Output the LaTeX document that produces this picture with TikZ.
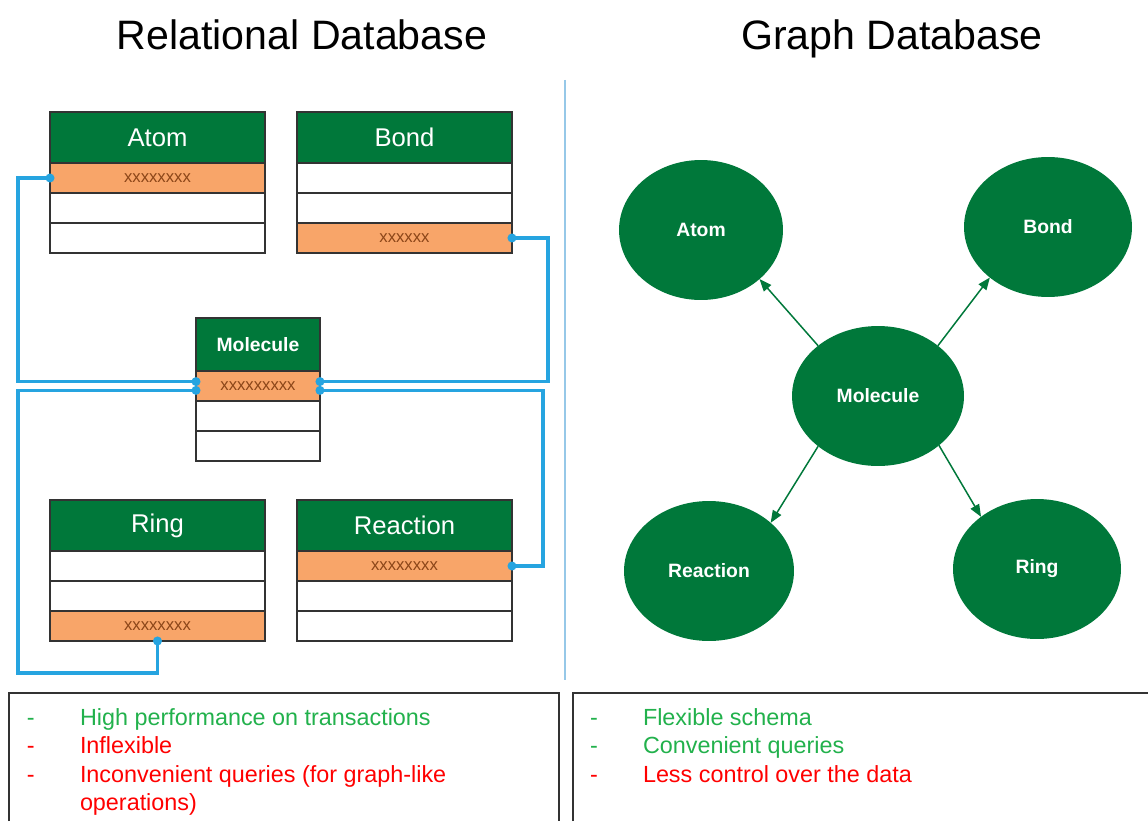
\documentclass[tikz,border=0pt]{standalone}
\usepackage{fontspec}
\setmainfont{Liberation Sans}
\usetikzlibrary{positioning,shapes.geometric,arrows.meta}

\definecolor{dbgreen}{RGB}{0,120,58}
\definecolor{keyorange}{RGB}{248,165,105}
\definecolor{keytext}{RGB}{140,70,25}
\definecolor{linkblue}{RGB}{38,164,224}
\definecolor{rulerblue}{RGB}{150,200,232}
\definecolor{progreen}{RGB}{34,177,76}
\definecolor{conred}{RGB}{255,0,0}

\begin{document}
\begin{tikzpicture}[x=0.02cm, y=-0.02cm]
  \tikzset{every node/.style={outer sep=0pt},
    title/.style={anchor=base, font=\fontsize{23.4}{28}\selectfont},
    tblhead/.style={draw=black!80, line width=0.8pt, fill=dbgreen, text=white, inner sep=0pt,
      minimum width=4.3cm, minimum height=1.02cm, font=\fontsize{14.6}{17}\selectfont},
    tblcell/.style={draw=black!80, line width=0.8pt, fill=white, text=keytext, inner sep=0pt,
      minimum width=4.3cm, minimum height=0.6cm, font=\fontsize{9.5}{11}\selectfont},
    keycell/.style={tblcell, fill=keyorange},
    molhead/.style={tblhead, minimum width=2.48cm, minimum height=1.06cm, font=\fontsize{11}{13}\selectfont\bfseries},
    molcell/.style={tblcell, minimum width=2.48cm},
    molkey/.style={keycell, minimum width=2.48cm},
    link/.style={draw=linkblue, line width=1.8pt, {Circle[length=5pt]}-{Circle[length=5pt]},
      shorten <=-2.5pt, shorten >=-2.5pt},
    gnode/.style={ellipse, fill=dbgreen, text=white, inner sep=0pt, minimum width=3.36cm,
      minimum height=2.8cm, font=\fontsize{11}{13}\selectfont\bfseries},
    rel/.style={draw=dbgreen, line width=0.85pt, -{Triangle[length=7pt,width=5.5pt]}},
    panel/.style={draw=black!80, line width=0.8pt},
    pro/.style={anchor=base west, inner sep=0pt, text=progreen, font=\fontsize{13.3}{16}\selectfont},
    con/.style={pro, text=conred}}

  \useasboundingbox (0,0) rectangle (1148,821);

  \node[title] (reltitle) at (302,50) {Relational Database};
  \node[title] (graphtitle) at (892,50) {Graph Database};
  \draw[rulerblue, line width=1.1pt] (565,80) -- (565,680);

  % tables
  \node[tblhead, anchor=north west] (atom) at (50,112) {Atom};
  \node[keycell, below=0pt of atom] (atom1) {xxxxxxxx};
  \node[tblcell, below=0pt of atom1] (atom2) {};
  \node[tblcell, below=0pt of atom2] (atom3) {};

  \node[tblhead, anchor=north west] (bond) at (297,112) {Bond};
  \node[tblcell, below=0pt of bond] (bond1) {};
  \node[tblcell, below=0pt of bond1] (bond2) {};
  \node[keycell, below=0pt of bond2] (bond3) {xxxxxx};

  \node[molhead, anchor=north west] (mol) at (196,318) {Molecule};
  \node[molkey, below=0pt of mol] (mol1) {xxxxxxxxx};
  \node[molcell, below=0pt of mol1] (mol2) {};
  \node[molcell, below=0pt of mol2] (mol3) {};

  \node[tblhead, anchor=north west] (ring) at (50,500) {Ring};
  \node[tblcell, below=0pt of ring] (ring1) {};
  \node[tblcell, below=0pt of ring1] (ring2) {};
  \node[keycell, below=0pt of ring2] (ring3) {xxxxxxxx};

  \node[tblhead, anchor=north west] (react) at (297,500) {Reaction};
  \node[keycell, below=0pt of react] (react1) {xxxxxxxx};
  \node[tblcell, below=0pt of react1] (react2) {};
  \node[tblcell, below=0pt of react2] (react3) {};

  % keys
  \coordinate (molup) at ([yshift=2.5pt]mol1.west);
  \coordinate (mollo) at ([yshift=-2.5pt]mol1.west);
  \coordinate (molupr) at ([yshift=2.5pt]mol1.east);
  \coordinate (molor) at ([yshift=-2.5pt]mol1.east);
  \coordinate (rail) at (18,0);
  \coordinate (brail) at (548,0);
  \coordinate (rrail) at (543,0);
  \draw[link] (atom1.west) -- (rail |- atom1.west) |- (molup);
  \draw[link] (ring3.south) -- ++(0,32) -| (rail |- mollo) -- (mollo);
  \draw[link] (bond3.east) -- (brail |- bond3.east) |- (molupr);
  \draw[link] (react1.east) -- (rrail |- react1.east) |- (molor);

  % graph
  \node[gnode, minimum width=3.44cm] (gmol) at (878,396) {Molecule};
  \node[gnode, minimum width=3.28cm] (gatom) at (701,230) {Atom};
  \node[gnode] (gbond) at (1048,227) {Bond};
  \node[gnode, minimum width=3.4cm] (greact) at (709,571) {Reaction};
  \node[gnode] (gring) at (1037,569) {Ring};
  \draw[rel] (gmol.140) -- (gatom.-40);
  \draw[rel] (gmol.40) -- (gbond.-139);
  \draw[rel] (gmol.220) -- (greact.38);
  \draw[rel] (gmol.-39) -- (gring.137);

  % pros and cons
  \draw[panel] (9,821) |- (559,693) -- (559,821);
  \draw[panel] (573,821) |- (1148,693);
  \node[pro] (d1) at (27,725) {-};
  \node[pro] (l1) at (80,725) {High performance on transactions};
  \node[con] (d2) at (27,753.5) {-};
  \node[con] (l2) at (80,753.5) {Inflexible};
  \node[con] (d3) at (27,782) {-};
  \node[con] (l3) at (80,782) {Inconvenient queries (for graph-like};
  \node[con] (l3b) at ([yshift=-16pt]l3.base west) {operations)};
  \node[pro] (r1) at (590,725) {-};
  \node[pro] (g1) at (643,725) {Flexible schema};
  \node[pro] (r2) at (590,753.5) {-};
  \node[pro] (g2) at (643,753.5) {Convenient queries};
  \node[con] (r3) at (590,782) {-};
  \node[con] (g3) at (643,782) {Less control over the data};
\end{tikzpicture}
\end{document}
